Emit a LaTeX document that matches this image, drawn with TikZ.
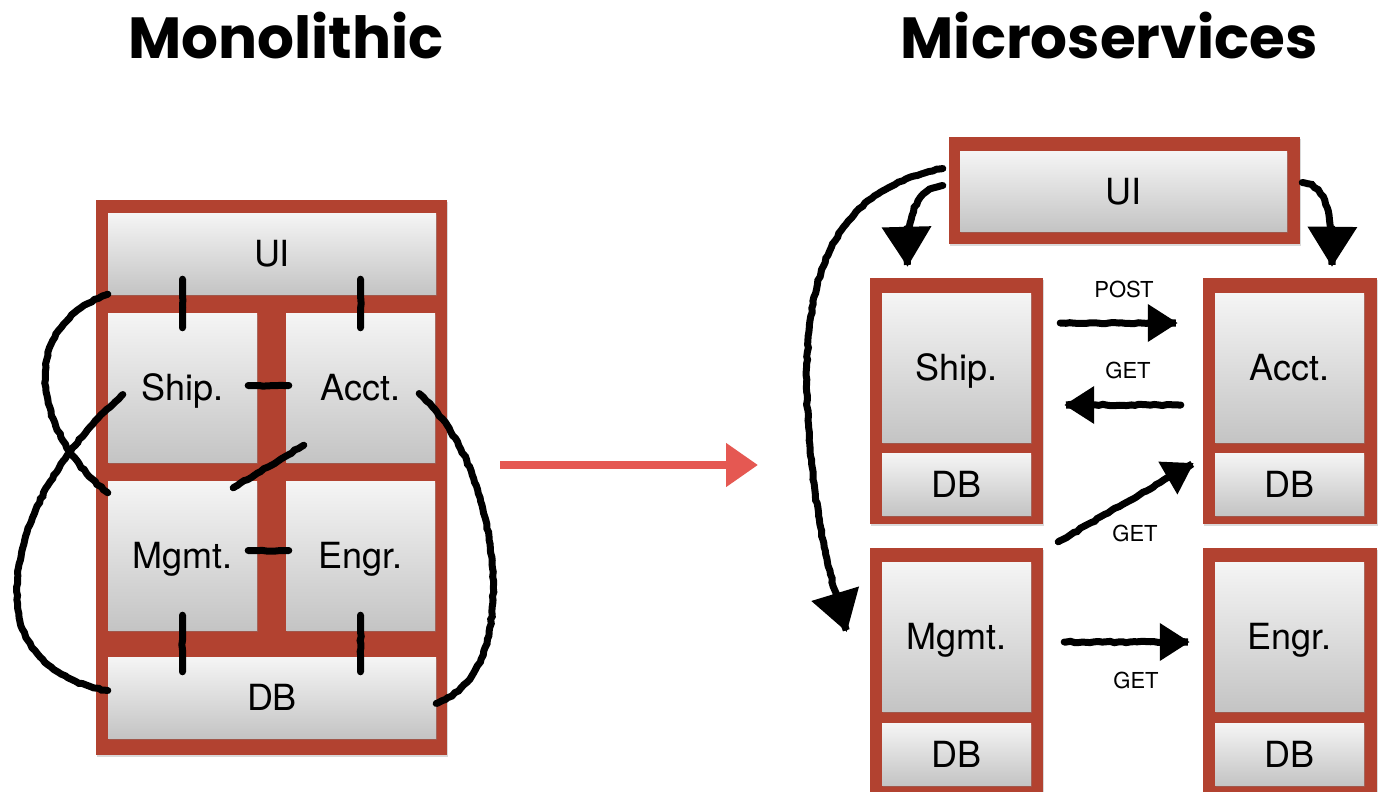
\documentclass[tikz,border=0pt]{standalone}
\usepackage{fontspec}
\setmainfont{TeX Gyre Heros}
\newfontfamily\titlefont{Poppins}
\usetikzlibrary{arrows.meta,shadows,decorations.pathmorphing}
\definecolor{framered}{RGB}{178,66,48}
\definecolor{chalkred}{RGB}{229,88,82}
\definecolor{boxtop}{RGB}{245,245,245}
\definecolor{boxbot}{RGB}{196,196,196}
\begin{document}
\begin{tikzpicture}[x=1pt,y=-1pt,
  frame/.style={fill=framered, draw=none, inner sep=0pt,
    drop shadow={opacity=0.3, shadow xshift=1pt, shadow yshift=-2pt}},
  gbox/.style={top color=boxtop, bottom color=boxbot, draw=none, inner sep=0pt,
    drop shadow={opacity=0.35, shadow xshift=0.5pt, shadow yshift=-1.5pt},
    font=\fontsize{36}{40}\selectfont, text height=26pt, text depth=0pt},
  sq/.style={minimum width=149pt, minimum height=149pt},
  dbs/.style={minimum width=149pt, minimum height=62pt},
  chalk/.style={line width=7pt, black, line cap=round,
    decorate, decoration={random steps, segment length=4pt, amplitude=0.7pt, pre length=2pt, post length=2pt}},
  bigtip/.style={-{Triangle[width=48pt,length=40pt]}},
  midtip/.style={-{Triangle[width=36pt,length=30pt]}},
  lbl/.style={font=\fontsize{22}{24}\selectfont, inner sep=0pt},
  title/.style={font=\titlefont\bfseries\fontsize{58}{64}\selectfont, inner sep=0pt}
]
\useasboundingbox (0,0) rectangle (1389,792);

% titles
\node[title] (t1) at (286,36) {Monolithic};
\node[title] (t2) at (1109,36) {Microservices};

% ---------------- Monolithic ----------------
\node[frame, minimum width=351pt, minimum height=555pt] (mono) at (271.5,477.5) {};
\node[gbox, minimum width=328pt, minimum height=81pt] (lui) at (272,253.5) {UI};
\node[gbox, sq] (lship) at (182.5,387.5) {Ship.};
\node[gbox, sq] (lacct) at (360.5,387.5) {Acct.};
\node[gbox, sq] (lmgmt) at (182.5,555.5) {Mgmt.};
\node[gbox, sq] (lengr) at (360.5,555.5) {Engr.};
\node[gbox, minimum width=328pt, minimum height=81pt] (ldb) at (272,697.5) {DB};

% short ticks
\draw[chalk, shorten <=-15pt, shorten >=-15pt] (lui.south -| lship.north) -- (lship.north);
\draw[chalk, shorten <=-15pt, shorten >=-15pt] (lui.south -| lacct.north) -- (lacct.north);
\draw[chalk, shorten <=-15pt, shorten >=-15pt] (lmgmt.south) -- (ldb.north -| lmgmt.south);
\draw[chalk, shorten <=-15pt, shorten >=-15pt] (lengr.south) -- (ldb.north -| lengr.south);
\draw[chalk, shorten <=-9pt, shorten >=-3pt] ([yshift=2pt]lship.east) -- ([yshift=2pt]lacct.west);
\draw[chalk, shorten <=-9pt, shorten >=-3pt] ([yshift=5pt]lmgmt.east) -- ([yshift=5pt]lengr.west);
\draw[chalk] ([shift={(18,-17)}]lacct.south west) -- ([shift={(-24,7)}]lmgmt.north east);

% loops
\draw[chalk] (lui.south west) .. controls (10,330) and (40,440) .. ([shift={(0,12)}]lmgmt.north west);
\draw[chalk] ([shift={(15,7)}]lship.west) .. controls (50,460) and (10,540) .. (18,610)
  .. controls (24,660) and (70,685) .. ([shift={(0,-7)}]ldb.west);
\draw[chalk] ([shift={(-16,6)}]lacct.east) .. controls (470,440) and (495,520) .. (493,600)
  .. controls (490,660) and (470,690) .. ([shift={(0,6)}]ldb.east);

% ---------------- transition arrow ----------------
\coordinate (ra1) at (500,465);
\coordinate (ra2) at (758,465);
\draw[line width=8pt, chalkred, -{Triangle[width=42pt,length=32pt]}] (ra1) -- (ra2);

% ---------------- Microservices ----------------
\node[frame, minimum width=351pt, minimum height=107pt] (ruiF) at (1124.5,190.5) {};
\node[gbox, minimum width=327pt, minimum height=80pt] (rui) at (1123.5,191) {UI};

\node[frame, minimum width=173pt, minimum height=246pt] (rshipF) at (956.5,401) {};
\node[gbox, sq] (rship) at (956.5,367.5) {Ship.};
\node[gbox, dbs] (rshipdb) at (956.5,484) {DB};

\node[frame, minimum width=174pt, minimum height=246pt] (racctF) at (1290,401) {};
\node[gbox, sq] (racct) at (1289.5,367.5) {Acct.};
\node[gbox, dbs] (racctdb) at (1289.5,484) {DB};

\node[frame, minimum width=173pt, minimum height=246pt] (rmgmtF) at (956.5,671) {};
\node[gbox, sq] (rmgmt) at (956.5,636.5) {Mgmt.};
\node[gbox, dbs] (rmgmtdb) at (956.5,754) {DB};

\node[frame, minimum width=174pt, minimum height=246pt] (rengrF) at (1290,671) {};
\node[gbox, sq] (rengr) at (1289.5,636.5) {Engr.};
\node[gbox, dbs] (rengrdb) at (1289.5,754) {DB};

% UI arrows
\draw[chalk, bigtip] ([shift={(-6,-5)}]ruiF.west) .. controls (915,190) and (907,215) .. ([shift={(-49,-11)}]rshipF.north);
\draw[chalk, bigtip] ([shift={(-6,-22)}]ruiF.west) .. controls (830,190) and (800,280) .. (808,420)
  .. controls (815,520) and (828,570) .. ([shift={(-23,-39)}]rmgmtF.west);
\draw[chalk, bigtip] ([shift={(2,-8)}]ruiF.east) .. controls (1325,185) and (1332,210) .. ([shift={(42,-11)}]racctF.north);

% service calls
\draw[chalk, midtip] ([shift={(17,-78)}]rshipF.east) -- ([shift={(-25,-78)}]racctF.west);
\draw[chalk, midtip] ([shift={(-22,4)}]racctF.west) -- ([shift={(21,4)}]rshipF.east);
\draw[chalk, midtip] ([shift={(15,-6)}]rmgmtF.north east) -- ([shift={(-21,-21)}]racctdb.west);
\draw[chalk, midtip] ([shift={(33,5.5)}]rmgmt.east) -- ([shift={(-25,5.5)}]rengr.west);

\node[lbl] (lpost) at (1124,289) {POST};
\node[lbl] (lget1) at (1128,370) {GET};
\node[lbl] (lget2) at (1135,533) {GET};
\node[lbl] (lget3) at (1136,680) {GET};
\end{tikzpicture}
\end{document}
